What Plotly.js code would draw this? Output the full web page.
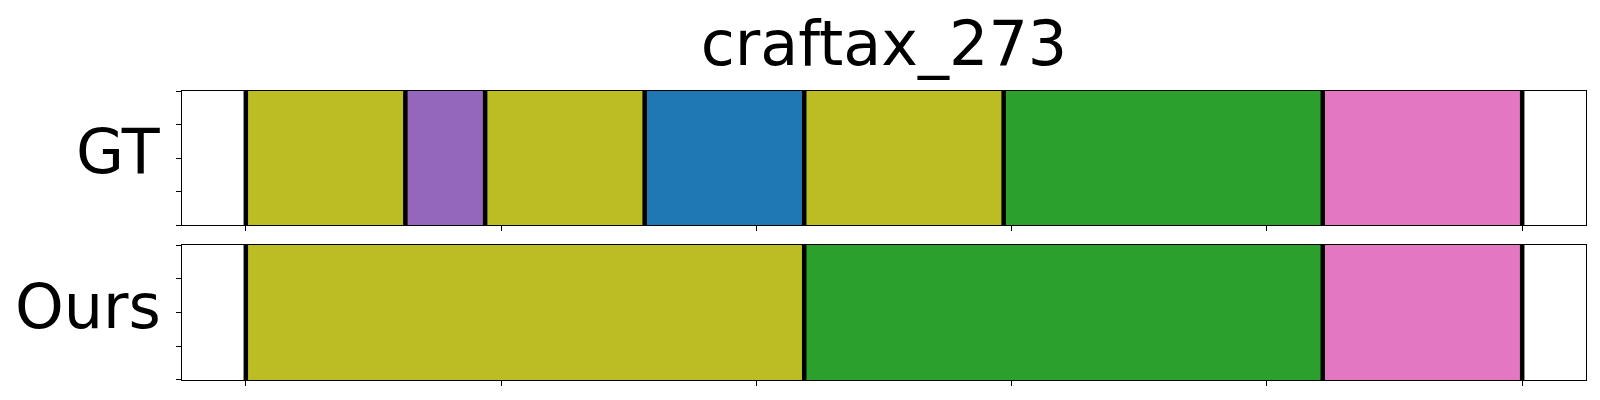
<!DOCTYPE html>
<html>
<head>
<meta charset="utf-8">
<script src="https://cdn.plot.ly/plotly-3.0.1.min.js"></script>
<style>html,body{margin:0;padding:0;background:#fff;}#chart{width:1600px;height:400px;}</style>
</head>
<body>
<div id="chart"></div>
<script>
// ---- data ----
const chartTitle = "craftax_273";
const rowLabels = ["GT", "Ours"];
const totalFrames = 256;
const gtBoundaries = [0, 32, 48, 80, 112, 152, 216, 256];
const gtClasses = [8, 4, 8, 0, 8, 2, 6];
const oursBoundaries = [0, 112, 216, 256];
const oursClasses = [8, 2, 6];
const tab10 = ["#1f77b4", "#ff7f0e", "#2ca02c", "#d62728", "#9467bd",
               "#8c564b", "#e377c2", "#7f7f7f", "#bcbd22", "#17becf"];

// ---- build traces ----
function segTraces(bounds, classes, xa, ya) {
  const xs = [], ws = [], ys = [], cs = [];
  for (let i = 0; i < classes.length; i++) {
    xs.push((bounds[i] + bounds[i + 1]) / 2);
    ws.push(bounds[i + 1] - bounds[i]);
    ys.push(1);
    cs.push(tab10[classes[i]]);
  }
  const bar = {
    type: "bar", x: xs, y: ys, width: ws, base: 0,
    marker: {color: cs, line: {width: 0}},
    xaxis: xa, yaxis: ya, hoverinfo: "skip", showlegend: false
  };
  const lx = [], ly = [];
  bounds.forEach(b => { lx.push(b, b, null); ly.push(0, 1, null); });
  const lines = {
    type: "scatter", mode: "lines", x: lx, y: ly,
    line: {color: "#000000", width: 4.5},
    xaxis: xa, yaxis: ya, hoverinfo: "skip", showlegend: false
  };
  return [bar, lines];
}

const traces = [
  ...segTraces(gtBoundaries, gtClasses, "x", "y"),
  ...segTraces(oursBoundaries, oursClasses, "x2", "y2")
];

const margin = totalFrames * 0.05;
const xticks = [];
for (let i = 0; i <= 5; i++) xticks.push(totalFrames * i / 5);

const axisCommon = {
  showline: true, mirror: true, linecolor: "#000", linewidth: 1,
  ticks: "outside", ticklen: 5, tickwidth: 1, tickcolor: "#000",
  showticklabels: false, showgrid: false, zeroline: false, fixedrange: true
};

const layout = {
  width: 1600, height: 400,
  margin: {l: 182, r: 14, t: 91, b: 20},
  paper_bgcolor: "#fff", plot_bgcolor: "#fff",
  font: {family: "DejaVu Sans", color: "#000"},
  barmode: "overlay", bargap: 0,
  title: {
    text: chartTitle, font: {size: 62, family: "DejaVu Sans", color: "#000"},
    xref: "paper", x: 0.5, xanchor: "center",
    yref: "container", y: 1 - 43 / 400, yanchor: "middle"
  },
  xaxis: Object.assign({}, axisCommon, {domain: [0, 1], anchor: "y",
    range: [-margin, totalFrames + margin], tickvals: xticks}),
  yaxis: Object.assign({}, axisCommon, {domain: [0.5363, 1], anchor: "x",
    range: [0, 1], tickvals: [0, 0.25, 0.5, 0.75, 1]}),
  xaxis2: Object.assign({}, axisCommon, {domain: [0, 1], anchor: "y2",
    range: [-margin, totalFrames + margin], tickvals: xticks}),
  yaxis2: Object.assign({}, axisCommon, {domain: [0, 0.4671], anchor: "x2",
    range: [0, 1], tickvals: [0, 0.25, 0.5, 0.75, 1]}),
  annotations: [
    {text: rowLabels[0], xref: "paper", x: -0.0171, xanchor: "right", xshift: 5,
     yref: "paper", y: 0.7844, yanchor: "middle", yshift: 2, showarrow: false,
     font: {size: 62, family: "DejaVu Sans", color: "#000"}},
    {text: rowLabels[1], xref: "paper", x: -0.0171, xanchor: "right", xshift: 5,
     yref: "paper", y: 0.2446, yanchor: "middle", yshift: 3, showarrow: false,
     font: {size: 62, family: "DejaVu Sans", color: "#000"}}
  ]
};

Plotly.newPlot("chart", traces, layout, {staticPlot: true, displayModeBar: false});
</script>
</body>
</html>
